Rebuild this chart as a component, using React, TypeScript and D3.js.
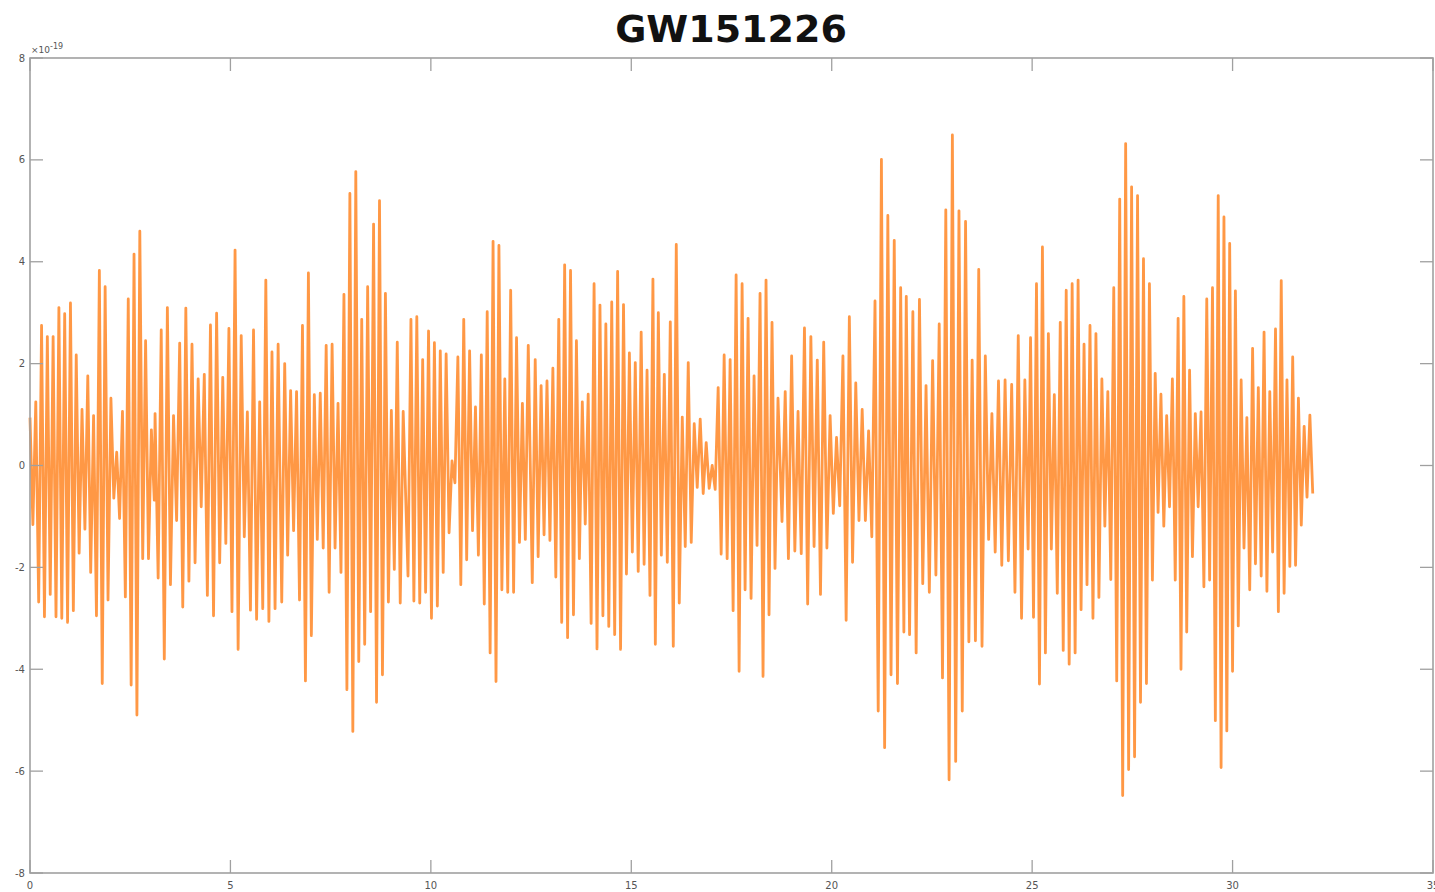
import * as d3 from "d3";

// strain (x1e-19), one array per ~3 s stretch of the record
const strain00 = [0.94, -1.16, 1.25, -2.68, 2.75, -2.97, 2.53, -2.53, 2.53, -2.97, 3.1, -3.0, 2.98, -3.08, 3.19, -2.85, 2.17, -1.72, 1.1, -1.25, 1.76, -2.1, 0.98, -2.95, 3.83, -4.28, 3.51, -2.64, 1.32, -0.64, 0.26, -1.04, 1.06, -2.58, 3.27, -4.31, 4.15, -4.9, 4.6, -1.83, 2.45, -1.83, 0.7, -0.68];
const strain03 = [1.02, -2.21, 2.66, -3.8, 3.1, -2.34, 0.98, -1.08, 2.4, -2.78, 3.09, -2.27, 2.38, -1.91, 1.7, -0.81, 1.79, -2.55, 2.76, -2.95, 2.99, -1.91, 1.73, -1.53, 2.69, -2.87, 4.23, -3.61, 2.55, -1.4, 1.05, -2.84, 2.66, -3.02, 1.25, -2.81, 3.64, -3.06, 2.23, -2.81, 2.38];
const strain06 = [-2.68, 2.0, -1.76, 1.47, -1.28, 1.45, -2.64, 2.75, -4.23, 3.78, -3.34, 1.39, -1.45, 1.42, -1.62, 2.36, -2.49, 2.38, -1.62, 1.22, -2.1, 3.36, -4.4, 5.34, -5.22, 5.77, -3.85, 2.87, -3.51, 3.51, -2.87, 4.74, -4.65, 5.2, -4.11, 3.38, -2.68, 1.08, -2.04, 2.42, -2.7, 1.06];
const strain09 = [-2.17, 2.87, -2.66, 2.92, -2.7, 2.08, -2.49, 2.64, -3.0, 2.41, -2.76, 2.25, -2.1, 2.19, -1.32, 0.09, -0.34, 2.13, -2.34, 2.87, -1.85, 2.25, -1.28, 1.15, -1.76, 2.17, -2.72, 3.02, -3.68, 4.4, -4.24, 4.32, -2.44, 1.7, -2.49, 3.44, -2.49, 2.51, -1.51, 1.22, -1.45, 2.36];
const strain12 = [-2.3, 2.08, -1.79, 1.57, -1.36, 1.66, -1.47, 1.91, -2.19, 2.87, -3.08, 3.94, -3.38, 3.83, -2.93, 2.45, -1.83, 1.25, -1.15, 1.4, -3.1, 3.57, -3.6, 3.15, -2.95, 2.78, -3.16, 3.21, -3.32, 3.81, -3.61, 3.16, -2.13, 2.21, -1.7, 2.02, -2.08, 2.62, -1.94, 1.87, -2.55, 3.66];
const strain15 = [-3.51, 3.0, -1.76, 1.79, -1.9, 2.82, -3.55, 4.34, -2.7, 0.95, -1.59, 2.02, -1.51, 0.82, -0.43, 0.91, -0.55, 0.45, -0.45, 0.0, -0.47, 1.53, -1.74, 2.17, -1.83, 2.08, -2.85, 3.74, -4.04, 3.57, -2.44, 2.89, -2.61, 1.76, -1.57, 3.38, -4.14, 3.64, -2.93, 2.81, -2.02, 1.32];
const strain18 = [-1.1, 1.45, -1.83, 2.15, -1.68, 1.06, -1.73, 2.7, -2.72, 2.53, -1.59, 2.07, -2.53, 2.42, -1.62, 0.98, -0.94, 0.55, -0.79, 2.15, -3.04, 2.92, -1.9, 1.62, -1.08, 1.1, -1.08, 0.68, -1.4, 3.23, -4.82, 6.01, -5.54, 4.91, -4.11, 4.42, -4.28, 3.49, -3.27];
const strain21 = [3.32, -3.32, 3.02, -3.68, 3.26, -2.32, 1.57, -2.49, 2.06, -2.15, 2.78, -4.17, 5.02, -6.17, 6.49, -5.81, 5.0, -4.82, 4.79, -3.46, 2.07, -3.44, 3.85, -3.55, 2.15, -1.45, 1.02, -1.7, 1.66, -1.96, 1.68, -1.87, 1.59, -2.49, 2.55, -3.0, 1.68, -1.64];
const strain24 = [2.51, -2.98, 3.57, -4.29, 4.29, -3.68, 2.59, -1.64, 1.39, -2.51, 2.81, -3.63, 3.44, -3.9, 3.57, -3.68, 3.64, -2.83, 2.38, -2.34, 2.75, -3.0, 2.59, -2.59, 1.7, -1.19, 1.45, -2.24, 3.49, -4.23, 5.23, -6.48, 6.32, -5.97, 5.47, -5.72, 5.3, -4.65, 4.06, -4.28, 3.57, -2.25];
const strain28 = [1.81, -0.92, 1.4, -1.19, 0.98, -0.81, 1.7, -2.25, 2.89, -4.0, 3.32, -3.27, 1.87, -1.79, 1.02, -0.81, 1.05, -2.38, 3.27, -2.25, 3.49, -5.01, 5.3, -5.93, 4.88, -5.21, 4.36, -4.04, 3.43, -3.15, 1.68, -1.62, 0.94, -2.44, 2.3, -1.93, 1.53, -2.17, 2.62, -2.47, 1.45, -1.7, 2.68, -2.87, 3.63, -2.51, 1.68, -1.98, 2.13, -1.96, 1.32, -1.17, 0.77, -0.62, 0.99, -0.55];

const chunks = [strain00, strain03, strain06, strain09, strain12, strain15, strain18, strain21, strain24, strain28];
const chunkStart = [0, 3.12, 6.28, 9.43, 12.53, 15.6, 18.76, 21.86, 24.96, 28.07];
const chunkEnd = [3.1, 6.19, 9.31, 12.43, 15.54, 18.66, 21.8, 24.9, 28.0, 32.0];

const xTicks = [0, 5, 10, 15, 20, 25, 30, 35];
const yTicks = [-8, -6, -4, -2, 0, 2, 4, 6, 8];

export default function App() {
  const width = 1435;
  const height = 892;
  const left = 30;
  const right = 1433;
  const top = 58;
  const bottom = 873;
  const tickLen = 13;

  const x = d3.scaleLinear().domain([0, 35]).range([left, right]);
  const y = d3.scaleLinear().domain([-8, 8]).range([bottom, top]);

  const points: [number, number][] = [];
  chunks.forEach((vals, i) => {
    const t = d3.scaleLinear().domain([0, vals.length - 1]).range([chunkStart[i], chunkEnd[i]]);
    vals.forEach((v, j) => points.push([t(j), v]));
  });

  const line = d3
    .line<[number, number]>()
    .x(d => x(d[0]))
    .y(d => y(d[1]));

  const axisColor = "#a0a0a0";
  const labelColor = "#555";

  return (
    <svg
      width={width}
      height={height}
      style={{ position: "absolute", left: 0, top: 0, background: "#fff" }}
      fontFamily="DejaVu Sans, sans-serif"
    >
      <text x={731} y={42} textAnchor="middle" fontSize={38} fontWeight="bold" fill="#111">
        GW151226
      </text>

      <path
        d={line(points) ?? undefined}
        fill="none"
        stroke="#ff8a2b"
        strokeWidth={2.8}
        strokeOpacity={0.88}
        strokeLinejoin="round"
      />

      <rect x={left} y={top} width={right - left} height={bottom - top} fill="none" stroke={axisColor} strokeWidth={1.6} />

      <g stroke={axisColor} strokeWidth={1.3}>
        {xTicks.map(t => (
          <g key={"x" + t}>
            <line x1={x(t)} x2={x(t)} y1={bottom} y2={bottom - tickLen} />
            <line x1={x(t)} x2={x(t)} y1={top} y2={top + tickLen} />
          </g>
        ))}
        {yTicks.map(t => (
          <g key={"y" + t}>
            <line x1={left} x2={left + tickLen} y1={y(t)} y2={y(t)} />
            <line x1={right} x2={right - tickLen} y1={y(t)} y2={y(t)} />
          </g>
        ))}
      </g>

      <g fill={labelColor} fontSize={10}>
        {xTicks.map(t => (
          <text key={"xl" + t} x={x(t)} y={bottom + 16} textAnchor="middle">
            {t}
          </text>
        ))}
        {yTicks.map(t => (
          <text key={"yl" + t} x={left - 5} y={y(t) + 3.5} textAnchor="end">
            {t}
          </text>
        ))}
        <text x={left + 1} y={top - 5} fontSize={9}>
          ×10
          <tspan dy={-4} fontSize={8}>-19</tspan>
        </text>
      </g>
    </svg>
  );
}
